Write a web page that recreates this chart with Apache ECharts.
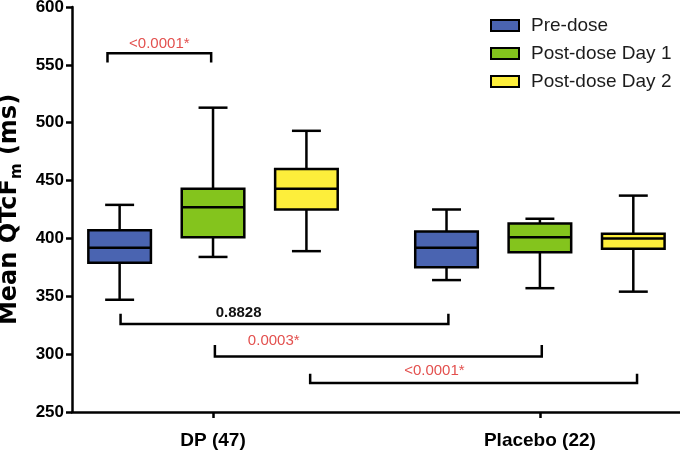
<!DOCTYPE html>
<html>
<head>
<meta charset="utf-8">
<script src="https://cdn.jsdelivr.net/npm/echarts@6/dist/echarts.min.js"></script>
<style>
html,body{margin:0;padding:0;background:#fff;}
#chart{width:680px;height:455px;}
</style>
</head>
<body>
<div id="chart"></div>
<script>
// ---- data ----
const groups = ['DP (47)', 'Placebo (22)'];
const seriesNames = ['Pre-dose', 'Post-dose Day 1', 'Post-dose Day 2'];
// [min, Q1, median, Q3, max] per group
const preDose  = [[347, 379, 392, 407, 429], [364, 375, 392, 406, 425]];
const postDay1 = [[384, 401, 427, 443, 513], [357, 388, 401, 413, 417]];
const postDay2 = [[389, 425, 443, 460, 493], [354, 391, 400, 404, 437]];
const yTicks = [250, 300, 350, 400, 450, 500, 550, 600];
// comparisons: [group, series] -> [group, series], bar level, tip level, label
const compFrom   = [[0, 0], [0, 0], [0, 1], [0, 2]];
const compTo     = [[0, 1], [1, 0], [1, 1], [1, 2]];
const compLevel  = [560, 326, 298, 275];
const compTip    = [552, 335, 308, 283];
const compLabel  = ['<0.0001*', '0.8828', '0.0003*', '<0.0001*'];
const compSig    = [true, false, true, true];

// ---- layout (styles, not data) ----
const GROUP_SPAN = 3.5;
const BOX_W = 0.67;
const CAP_W = 0.31;
const LABEL_FRAC = [0.5, 0.36, 0.18, 0.38];
const START_NUDGE = [-0.13, 0.01, 0.02, 0.04];
const END_NUDGE = [-0.02, 0.02, 0.02, 0.04];
const LABEL_RISE = [9, 11, 16, 12];
const colors = ['#4a64b1', '#84c41d', '#fdee3b'];
const FONT = '"Liberation Sans", Arial, Helvetica, sans-serif';
const NAME_FONT = '"DejaVu Sans", sans-serif';
const LW = 2.5;

const allSeries = [preDose, postDay1, postDay2];
function pos(g, s) { return g * GROUP_SPAN + s; }
const groupCenters = groups.map((g, gi) => pos(gi, 1));

function renderBox(params, api) {
  const x = api.value(0);
  const c = api.coord([x, api.value(3)]);
  const yLo = api.coord([x, api.value(1)])[1];
  const yQ1 = api.coord([x, api.value(2)])[1];
  const yMed = c[1];
  const yQ3 = api.coord([x, api.value(4)])[1];
  const yHi = api.coord([x, api.value(5)])[1];
  const hw = api.size([BOX_W, 0])[0] / 2;
  const cw = api.size([CAP_W, 0])[0] / 2;
  const cx = c[0];
  const ls = { stroke: '#000', lineWidth: LW };
  return {
    type: 'group',
    children: [
      { type: 'line', shape: { x1: cx, y1: yHi, x2: cx, y2: yQ3 }, style: ls },
      { type: 'line', shape: { x1: cx, y1: yQ1, x2: cx, y2: yLo }, style: ls },
      { type: 'line', shape: { x1: cx - cw, y1: yHi, x2: cx + cw, y2: yHi }, style: ls },
      { type: 'line', shape: { x1: cx - cw, y1: yLo, x2: cx + cw, y2: yLo }, style: ls },
      { type: 'rect', shape: { x: cx - hw, y: yQ3, width: hw * 2, height: yQ1 - yQ3 },
        style: { fill: api.visual('color'), stroke: '#000', lineWidth: LW } },
      { type: 'line', shape: { x1: cx - hw, y1: yMed, x2: cx + hw, y2: yMed }, style: ls }
    ]
  };
}

const boxSeries = seriesNames.map((name, si) => ({
  name: name,
  type: 'custom',
  renderItem: renderBox,
  itemStyle: { color: colors[si] },
  encode: { x: 0, y: [1, 2, 3, 4, 5] },
  data: groups.map((g, gi) => [pos(gi, si)].concat(allSeries[si][gi])),
  clip: false,
  z: 3
}));

const compData = compFrom.map((f, i) => [
  pos(f[0], f[1]) + START_NUDGE[i], pos(compTo[i][0], compTo[i][1]) + END_NUDGE[i],
  compLevel[i], compTip[i], i
]);

const compSeries = {
  type: 'custom',
  name: 'comparisons',
  renderItem: function (params, api) {
    const x1 = api.value(0), x2 = api.value(1), lvl = api.value(2), tip = api.value(3);
    const idx = api.value(4);
    const p1 = api.coord([x1, lvl]);
    const p2 = api.coord([x2, lvl]);
    const t = api.coord([x1, tip])[1];
    const lx = p1[0] + (p2[0] - p1[0]) * LABEL_FRAC[idx];
    return {
      type: 'group',
      children: [
        { type: 'polyline', shape: { points: [[p1[0], t], [p1[0], p1[1]], [p2[0], p2[1]], [p2[0], t]] },
          style: { stroke: '#000', lineWidth: LW, fill: null } },
        { type: 'text', x: lx, y: p1[1] - LABEL_RISE[idx],
          style: { text: compLabel[idx], fill: compSig[idx] ? '#e3504e' : '#111',
                   font: (compSig[idx] ? 'normal' : 'bold') + ' 15px ' + FONT,
                   align: 'center', verticalAlign: 'middle' } }
      ]
    };
  },
  encode: { x: [0, 1], y: [2, 3] },
  data: compData,
  clip: false,
  silent: true,
  z: 4
};

const chart = echarts.init(document.getElementById('chart'), null, { renderer: 'canvas' });
chart.setOption({
  animation: false,
  backgroundColor: '#fff',
  legend: {
    data: seriesNames.map(n => ({ name: n, icon: 'rect' })),
    orient: 'vertical',
    left: 490,
    top: 16,
    padding: 0,
    itemWidth: 28,
    itemHeight: 11,
    itemGap: 9,
    itemStyle: { borderColor: '#000', borderWidth: 2 },
    textStyle: { fontSize: 19, color: '#1c1c1c', fontFamily: FONT, padding: [0, 0, 0, 7] }
  },
  grid: { left: 72, right: 0, top: 7, bottom: 43, containLabel: false, outerBoundsMode: 'none' },
  xAxis: {
    type: 'value',
    min: -0.51,
    max: 6.0,
    splitLine: { show: false },
    axisLine: { show: true, onZero: false, lineStyle: { color: '#000', width: LW } },
    axisTick: { show: true, customValues: groupCenters, length: 6, lineStyle: { color: '#000', width: LW } },
    axisLabel: {
      customValues: groupCenters,
      formatter: function (v) {
        const i = groupCenters.findIndex(c => Math.abs(c - v) < 1e-6);
        return i >= 0 ? groups[i] : '';
      },
      fontSize: 19, fontWeight: 'bold', color: '#000', fontFamily: FONT, margin: 19
    }
  },
  yAxis: {
    type: 'value',
    min: yTicks[0],
    max: yTicks[yTicks.length - 1],
    interval: 50,
    name: '{a|Mean QTcF}{sub|m}{a| (ms)}',
    nameLocation: 'middle',
    nameRotate: 90,
    nameGap: 42,
    nameTextStyle: {
      fontSize: 24, fontWeight: 'bold', color: '#000', fontFamily: NAME_FONT,
      rich: {
        a: { fontSize: 24, fontWeight: 'bold', color: '#000', fontFamily: NAME_FONT, lineHeight: 30 },
        sub: { fontSize: 15, fontWeight: 'bold', color: '#000', fontFamily: NAME_FONT, verticalAlign: 'bottom' }
      }
    },
    splitLine: { show: false },
    axisLine: { show: true, onZero: false, lineStyle: { color: '#000', width: LW } },
    axisTick: { show: true, length: 6, lineStyle: { color: '#000', width: LW } },
    axisLabel: { fontSize: 17, fontWeight: 'bold', color: '#000', fontFamily: FONT, margin: 8 }
  },
  series: boxSeries.concat([compSeries])
});
</script>
</body>
</html>
